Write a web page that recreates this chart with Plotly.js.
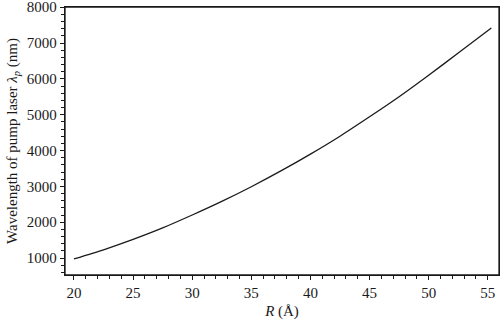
<!DOCTYPE html>
<html>
<head>
<meta charset="utf-8">
<script src="https://cdn.plot.ly/plotly-3.0.1.min.js"></script>
<style>html,body{margin:0;padding:0;background:#fff;}#chart{width:500px;height:322px;}</style>
</head>
<body>
<div id="chart"></div>
<script>
// Values
var radius = [20, 22.5, 25, 27.5, 30, 32.5, 35, 37.5, 40, 42.5, 45, 47.5, 50, 52.5, 55.3];
var wavelength = [975, 1230, 1520, 1840, 2200, 2580, 2990, 3430, 3900, 4400, 4940, 5500, 6100, 6720, 7420];
var xTicks = [20, 25, 30, 35, 40, 45, 50, 55];
var yTicks = [1000, 2000, 3000, 4000, 5000, 6000, 7000, 8000];

var serif = "Liberation Serif, Times New Roman, serif";

var trace = {
  x: radius,
  y: wavelength,
  type: 'scatter',
  mode: 'lines',
  line: {color: '#1a1a1a', width: 1.3, shape: 'spline', smoothing: 0.6},
  hoverinfo: 'skip'
};

var layout = {
  width: 500,
  height: 322,
  margin: {l: 65, r: 1, t: 7, b: 47},
  paper_bgcolor: '#fff',
  plot_bgcolor: '#fff',
  showlegend: false,
  font: {family: serif, size: 15, color: '#1a1a1a'},
  shapes: [{
    type: 'rect', xref: 'x domain', yref: 'y domain', x0: 0, x1: 1, y0: 0, y1: 1,
    line: {color: '#1a1a1a', width: 1.3}, fillcolor: 'rgba(0,0,0,0)', layer: 'above'
  }],
  xaxis: {
    range: [19.24, 55.95],
    tickvals: xTicks,
    ticktext: xTicks.map(String),
    ticks: 'outside',
    ticklen: 4,
    tickwidth: 1,
    tickcolor: '#1a1a1a',
    ticklabeloverflow: 'allow',
    minor: {dtick: 1, tick0: 20, ticks: 'outside', ticklen: 3, tickcolor: '#1a1a1a', showgrid: false},
    showline: true,
    linecolor: '#1a1a1a',
    linewidth: 1.3,
    mirror: true,
    showgrid: false,
    zeroline: false,
    tickfont: {family: serif, size: 15, color: '#1a1a1a'},
    title: {text: '<i>R</i> (Å)', font: {family: serif, size: 15, color: '#1a1a1a'}, standoff: 5}
  },
  yaxis: {
    range: [526, 8005],
    tickvals: yTicks,
    ticktext: yTicks.map(String),
    ticks: 'outside',
    ticklen: 4,
    tickwidth: 1,
    tickcolor: '#1a1a1a',
    ticklabeloverflow: 'allow',
    minor: {dtick: 200, tick0: 0, ticks: 'outside', ticklen: 3, tickcolor: '#1a1a1a', showgrid: false},
    showline: true,
    linecolor: '#1a1a1a',
    linewidth: 1.3,
    mirror: true,
    showgrid: false,
    zeroline: false,
    tickfont: {family: serif, size: 15, color: '#1a1a1a'},
    title: {text: 'Wavelength of pump laser <i>λ</i><sub><i>p</i></sub> (nm)', font: {family: serif, size: 15, color: '#1a1a1a'}, standoff: 5}
  }
};

Plotly.newPlot('chart', [trace], layout, {staticPlot: true, displayModeBar: false});
</script>
</body>
</html>
